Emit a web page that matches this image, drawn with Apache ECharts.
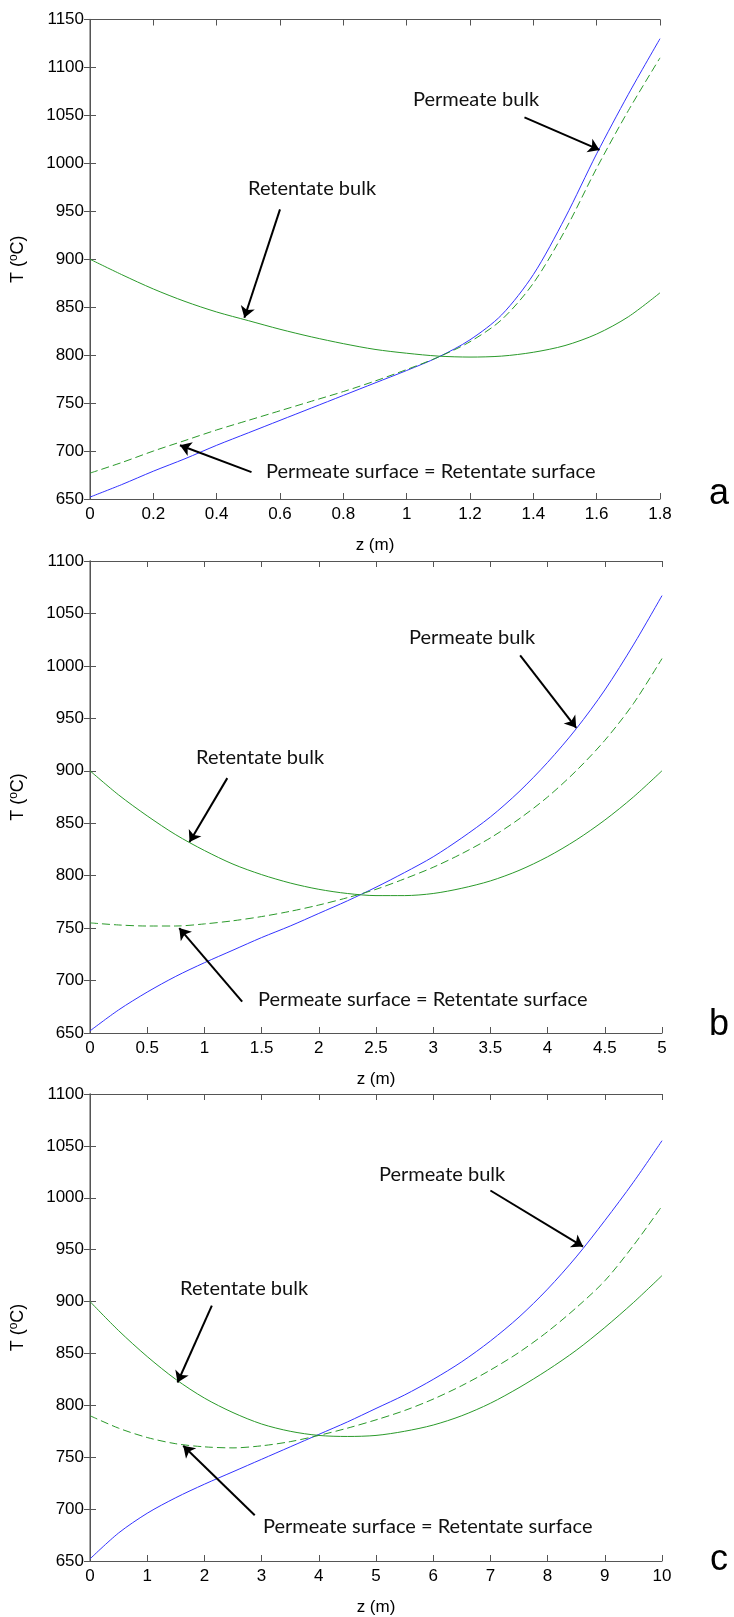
<!DOCTYPE html>
<html>
<head>
<meta charset="utf-8">
<script src="https://cdn.jsdelivr.net/npm/echarts@6/dist/echarts.min.js"></script>
<style>
  html, body { margin: 0; padding: 0; background: #fff; }
  #main { width: 734px; height: 1617px; }
</style>
</head>
<body>
<div id="main"></div>
<script>
// panel a : z from 0 to 1.8 m
var zA = [0, 0.1, 0.2, 0.3, 0.4, 0.5, 0.6, 0.7, 0.8, 0.9, 1.0, 1.1, 1.2, 1.3, 1.4, 1.5, 1.6, 1.7, 1.8];
var permBulkA = [652, 665, 679, 692, 706, 719, 732, 745, 758, 771, 784, 798, 816, 842, 884, 943, 1010, 1072, 1130];
var permSurfA = [677, 688, 700, 711, 722, 732, 742, 752, 762, 773, 785, 798, 814, 837, 875, 930, 995, 1055, 1110];
var retBulkA  = [900, 884, 869, 856, 845, 836, 827, 819, 812, 806, 802, 799, 798, 799, 803, 810, 822, 840, 865];

// panel b : z from 0 to 5 m
var zB = [0, 0.25, 0.5, 0.75, 1, 1.25, 1.5, 1.75, 2, 2.25, 2.5, 2.75, 3, 3.25, 3.5, 3.75, 4, 4.25, 4.5, 4.75, 5];
var permBulkB = [652, 672, 689, 704, 717, 729, 741, 752, 764, 776, 789, 803, 818, 836, 856, 880, 908, 940, 977, 1020, 1067];
var permSurfB = [755, 753, 752, 752, 754, 757, 761, 766, 772, 779, 787, 797, 808, 821, 836, 854, 875, 900, 929, 964, 1007];
var retBulkB  = [900, 877, 857, 839, 824, 811, 801, 793, 787, 783, 781, 781, 783, 788, 795, 805, 818, 834, 853, 875, 900];

// panel c : z from 0 to 10 m
var zC = [0, 0.5, 1, 1.5, 2, 2.5, 3, 3.5, 4, 4.5, 5, 5.5, 6, 6.5, 7, 7.5, 8, 8.5, 9, 9.5, 10];
var permBulkC = [652, 677, 696, 711, 724, 736, 748, 760, 772, 784, 797, 810, 825, 842, 862, 885, 912, 943, 978, 1015, 1055];
var permSurfC = [790, 778, 769, 763, 760, 759, 761, 765, 771, 778, 786, 795, 806, 819, 834, 851, 871, 894, 920, 954, 992];
var retBulkC  = [900, 872, 847, 825, 807, 793, 782, 775, 771, 770, 771, 775, 781, 790, 802, 817, 834, 853, 875, 899, 925];

// axis ranges
var xMax = [1.8, 5, 10];
var xStep = [0.2, 0.5, 1];
var yMax = [1150, 1100, 1100];

// arrows: [tail, tip] in data units
var arrowsA = [[[1.372, 1048], [1.609, 1014]], [[0.60, 952], [0.4875, 839]], [[0.51, 678], [0.284, 706]]];
var arrowsB = [[[3.76, 1010], [4.25, 941]], [[1.20, 893], [0.87, 832]], [[1.33, 680], [0.78, 750]]];
var arrowsC = [[[7.0, 1007], [8.62, 953]], [[2.13, 896], [1.53, 822]], [[2.88, 694], [1.63, 761]]];

var labelFont = 'Liberation Sans, Arial, sans-serif';
var noteFont = 'Lato, Open Sans, sans-serif';

function pairs(xs, ys) {
  return xs.map(function (x, i) { return [x, ys[i]]; });
}

var grids = [
  { left: 84, top: 19.5, width: 576, height: 479.5 },
  { left: 85, top: 561, width: 577, height: 472 },
  { left: 85, top: 1094, width: 577, height: 475 }
];

var xAxes = [], yAxes = [];
for (var i = 0; i < 3; i++) {
  xAxes.push({
    type: 'value', gridIndex: i, min: 0, max: xMax[i], interval: xStep[i],
    name: 'z (m)', nameLocation: 'middle', nameGap: 38,
    nameTextStyle: { fontFamily: labelFont, fontSize: 17, color: '#000' },
    axisLine: { lineStyle: { color: '#555', width: 1 } },
    axisTick: { inside: true, length: 6, lineStyle: { color: '#555' } },
    axisLabel: { fontFamily: labelFont, fontSize: 17, color: '#000', margin: 7 },
    splitLine: { show: false }
  });
  yAxes.push({
    type: 'value', gridIndex: i, min: 650, max: yMax[i], interval: 50,
    name: 'T ({s|o}C)', nameLocation: 'middle', nameGap: 61,
    nameTextStyle: {
      fontFamily: labelFont, fontSize: 18, color: '#000',
      rich: { s: { fontFamily: labelFont, fontSize: 12, color: '#000', padding: [0, 0, 9, 0] } }
    },
    axisLine: { lineStyle: { color: '#888', width: 1.5 } },
    axisTick: { inside: true, length: 6, lineStyle: { color: '#555' } },
    axisLabel: {
      fontFamily: labelFont, fontSize: 17, color: '#000', margin: 6,
      formatter: function (v) { return String(v); }
    },
    splitLine: { show: false }
  });
}
// mirror axes for the box
for (var j = 0; j < 3; j++) {
  xAxes.push({
    type: 'value', gridIndex: j, position: 'top', min: 0, max: xMax[j], interval: xStep[j],
    axisLine: { lineStyle: { color: '#555' } },
    axisTick: { inside: true, length: 6, lineStyle: { color: '#555' } },
    axisLabel: { show: false }, splitLine: { show: false }
  });
  yAxes.push({
    type: 'value', gridIndex: j, position: 'right', min: 650, max: yMax[j], interval: 50,
    axisLine: { lineStyle: { color: '#555' } },
    axisTick: { inside: true, length: 6, lineStyle: { color: '#555' } },
    axisLabel: { show: false }, splitLine: { show: false }
  });
}

function arrowLine(list) {
  return {
    silent: true,
    symbol: ['none', 'arrow'],
    symbolSize: 11,
    label: { show: false },
    lineStyle: { color: '#000', width: 2, type: 'solid' },
    data: list.map(function (a) {
      return [{ coord: a[0] }, { coord: a[1] }];
    })
  };
}

var panels = [
  [zA, permBulkA, permSurfA, retBulkA, arrowsA],
  [zB, permBulkB, permSurfB, retBulkB, arrowsB],
  [zC, permBulkC, permSurfC, retBulkC, arrowsC]
];
var series = [];
panels.forEach(function (p, k) {
  series.push({
    type: 'line', xAxisIndex: k, yAxisIndex: k, data: pairs(p[0], p[1]),
    showSymbol: false, smooth: 0.3, lineStyle: { color: '#3333ff', width: 1 }
  });
  series.push({
    type: 'line', xAxisIndex: k, yAxisIndex: k, data: pairs(p[0], p[2]),
    showSymbol: false, smooth: 0.3, lineStyle: { color: '#2a9a2a', width: 1, type: [8, 4] }
  });
  series.push({
    type: 'line', xAxisIndex: k, yAxisIndex: k, data: pairs(p[0], p[3]),
    showSymbol: false, smooth: 0.3, lineStyle: { color: '#2a9a2a', width: 1 },
    markLine: arrowLine(p[4])
  });
});

function note(text, x, y) {
  return {
    type: 'text', x: x, y: y, silent: true,
    style: { text: text, fontFamily: noteFont, fontSize: 20, fill: '#111', verticalAlign: 'middle' }
  };
}
function letter(text, x, y) {
  return {
    type: 'text', x: x, y: y, silent: true,
    style: { text: text, fontFamily: labelFont, fontSize: 36, fill: '#000', align: 'center', verticalAlign: 'middle' }
  };
}

var chart = echarts.init(document.getElementById('main'));
chart.setOption({
  animation: false,
  backgroundColor: '#fff',
  grid: grids,
  xAxis: xAxes,
  yAxis: yAxes,
  series: series,
  graphic: [
    note('Permeate bulk', 413, 100),
    note('Retentate bulk', 248, 189),
    note('Permeate surface = Retentate surface', 266, 472),
    note('Permeate bulk', 409, 638),
    note('Retentate bulk', 196, 758),
    note('Permeate surface = Retentate surface', 258, 1000),
    note('Permeate bulk', 379, 1175),
    note('Retentate bulk', 180, 1289),
    note('Permeate surface = Retentate surface', 263, 1527),
    letter('a', 719, 494),
    letter('b', 719, 1025),
    letter('c', 719, 1560)
  ]
});
</script>
</body>
</html>
